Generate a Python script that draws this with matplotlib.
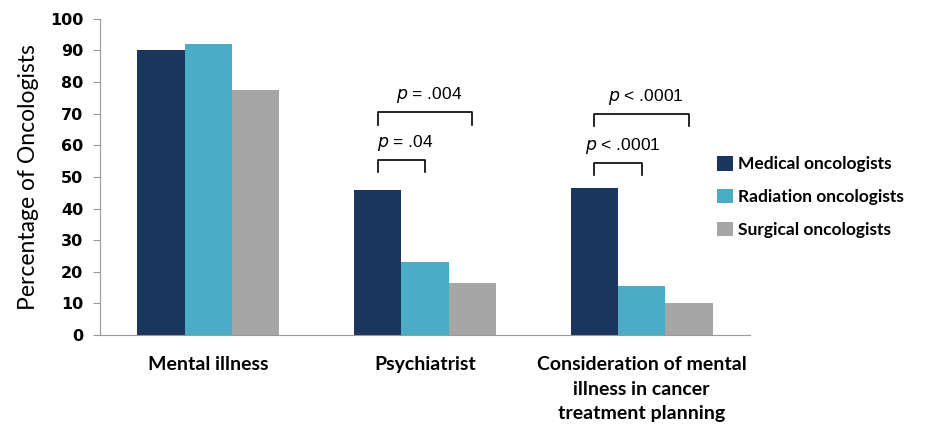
import numpy as np
import matplotlib.pyplot as plt

categories = ['Mental illness', 'Psychiatrist',
              'Consideration of mental\nillness in cancer\ntreatment planning']
groups = ['Medical oncologists', 'Radiation oncologists', 'Surgical oncologists']
medical = [90, 46, 46.5]
radiation = [92, 23, 15.5]
surgical = [77.5, 16.5, 10]
colors = ['#1b365d', '#4bacc6', '#a6a6a6']

# significance brackets: (category index, end bar index, label, height)
brackets = [
    (1, 1, '= .04', 55.5),
    (1, 2, '= .004', 70.5),
    (2, 1, '< .0001', 54.5),
    (2, 2, '< .0001', 70),
]

plt.rcParams['font.family'] = ['Lato', 'DejaVu Sans']

fig = plt.figure(figsize=(9.34, 4.29), dpi=100)
ax = fig.add_axes([0.107, 0.219, 0.696, 0.737])

x = np.arange(len(categories))
w = 0.218
series = [medical, radiation, surgical]
for i, vals in enumerate(series):
    ax.bar(x + (i - 1) * w, vals, w, color=colors[i], label=groups[i])

for ci, end, label, h in brackets:
    x0 = x[ci] - w
    x1 = x[ci] + (end - 1) * w
    ax.plot([x0, x0, x1, x1], [h - 4, h, h, h - 4], color='black', lw=1.2,
            clip_on=False)
    ax.text((x0 + x1) / 2 + 0.02, h + 2.2, '$p$ ' + label, ha='center',
            va='bottom', fontsize=12.5, family=['Liberation Sans'])

ax.set_xlim(-0.5, 2.5)
ax.set_ylim(0, 100)
ax.set_yticks(range(0, 101, 10))
ax.set_xticks(x)
ax.set_xticklabels(categories, fontsize=14, fontweight='bold',
                   linespacing=1.55)
ax.tick_params(axis='x', length=0, pad=15)
ax.tick_params(axis='y', length=5, color='#999999', pad=7)
for t in ax.get_yticklabels():
    t.set_fontweight('bold')
    t.set_fontsize(11.5)
    t.set_family(['DejaVu Sans'])
ax.set_ylabel('Percentage of Oncologists', fontsize=16.5, labelpad=8)

for s in ['top', 'right']:
    ax.spines[s].set_visible(False)
ax.spines['left'].set_color('#999999')
ax.spines['bottom'].set_color('#999999')

fig.legend(loc='center left', bbox_to_anchor=(0.768, 0.541), frameon=False,
           prop={'size': 12.5, 'weight': 'bold'}, handlelength=0.9,
           handleheight=0.9, handletextpad=0.3, labelspacing=0.95,
           borderaxespad=0, borderpad=0)

fig.savefig('out.png', dpi=100)
